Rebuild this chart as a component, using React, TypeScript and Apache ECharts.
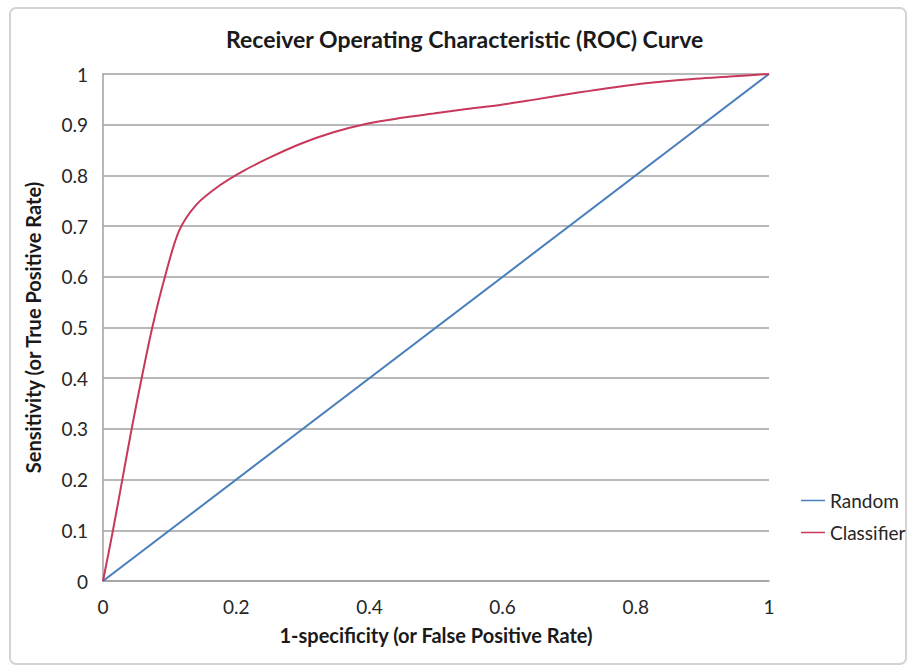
import React, { useEffect, useRef } from "react";
import * as echarts from "echarts";

const randomFpr = [0, 1];
const randomTpr = [0, 1];

const classifierFpr = [0, 0.015, 0.029, 0.043, 0.058, 0.074, 0.093, 0.114, 0.14, 0.175, 0.211, 0.25, 0.296, 0.346, 0.396, 0.446, 0.496, 0.546, 0.596, 0.641, 0.716, 0.791, 0.866, 0.941, 1];
const classifierTpr = [0, 0.1, 0.2, 0.3, 0.4, 0.5, 0.6, 0.69, 0.742, 0.78, 0.809, 0.835, 0.862, 0.885, 0.902, 0.913, 0.922, 0.931, 0.939, 0.948, 0.964, 0.978, 0.988, 0.995, 1];

const yTicks = [0, 0.1, 0.2, 0.3, 0.4, 0.5, 0.6, 0.7, 0.8, 0.9, 1];
const xTicks = [0, 0.2, 0.4, 0.6, 0.8, 1];

const FONT = "Lato, 'Open Sans', sans-serif";

export default function App() {
  const ref = useRef<HTMLDivElement>(null);
  useEffect(() => {
    if (!ref.current) return;
    const chart = echarts.init(ref.current, undefined, { renderer: "svg" });
    const toPairs = (xs: number[], ys: number[]) => xs.map((x, i) => [x, ys[i]]);
    chart.setOption({
      animation: false,
      backgroundColor: "#ffffff",
      title: {
        text: "Receiver Operating Characteristic (ROC) Curve",
        left: 226,
        top: 27,
        textStyle: { fontFamily: FONT, fontSize: 23, fontWeight: "bold", color: "#1a1a1a" },
        padding: 0,
      },
      graphic: [
        {
          type: "rect",
          shape: { x: 10, y: 8, width: 896, height: 656, r: 6 },
          style: { fill: "none", stroke: "#d4d4d4", lineWidth: 2 },
          silent: true,
        },
      ],
      legend: {
        orient: "vertical",
        left: 796,
        top: 486,
        icon: "rect",
        itemWidth: 24,
        itemHeight: 1.5,
        itemGap: 13,
        textStyle: { fontFamily: FONT, fontSize: 19, color: "#262626" },
        data: ["Random", "Classifier"],
      },
      grid: { left: 103, right: 141, top: 74, bottom: 88, containLabel: false },
      xAxis: {
        type: "value",
        min: 0,
        max: 1,
        interval: 0.2,
        name: "1-specificity (or False Positive Rate)",
        nameLocation: "middle",
        nameGap: 44,
        nameTextStyle: { fontFamily: FONT, fontSize: 20, fontWeight: "bold", color: "#1a1a1a" },
        axisLine: { show: true, lineStyle: { color: "#a0a0a0", width: 1.5 } },
        axisTick: { show: false },
        splitLine: { show: false },
        axisLabel: {
          fontFamily: FONT,
          fontSize: 19,
          color: "#262626",
          margin: 16,
          formatter: (v: number) => (xTicks.some((t) => Math.abs(t - v) < 1e-9) ? String(+v.toFixed(1)) : ""),
        },
      },
      yAxis: {
        type: "value",
        min: 0,
        max: 1,
        interval: 0.1,
        name: "Sensitivity (or True Positive Rate)",
        nameLocation: "middle",
        nameGap: 60,
        nameTextStyle: { fontFamily: FONT, fontSize: 20, fontWeight: "bold", color: "#1a1a1a" },
        axisLine: { show: true, lineStyle: { color: "#a0a0a0", width: 1.5 } },
        axisTick: { show: false },
        splitLine: { show: true, lineStyle: { color: "#a0a0a0", width: 1.5 } },
        axisLabel: {
          fontFamily: FONT,
          fontSize: 19,
          color: "#262626",
          margin: 15,
          formatter: (v: number) => (yTicks.some((t) => Math.abs(t - v) < 1e-9) ? String(+v.toFixed(1)) : ""),
        },
      },
      series: [
        {
          name: "Random",
          type: "line",
          data: toPairs(randomFpr, randomTpr),
          symbol: "none",
          lineStyle: { color: "#4a7ebb", width: 2 },
          itemStyle: { color: "#4a7ebb" },
        },
        {
          name: "Classifier",
          type: "line",
          data: toPairs(classifierFpr, classifierTpr),
          symbol: "none",
          smooth: 0.3,
          lineStyle: { color: "#c8385a", width: 2 },
          itemStyle: { color: "#c8385a" },
        },
      ],
    });
    return () => chart.dispose();
  }, []);
  return (
    <div
      ref={ref}
      style={{ position: "fixed", left: 0, top: 0, width: 910, height: 669 }}
    />
  );
}
